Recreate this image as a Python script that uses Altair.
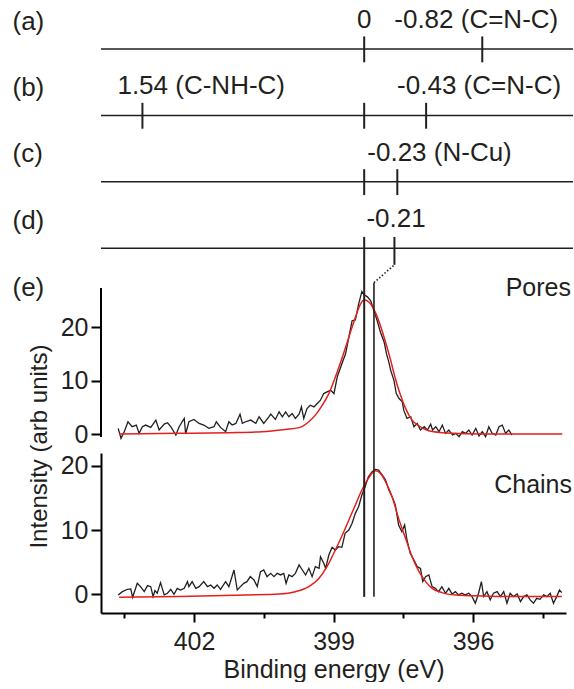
import altair as alt
import pandas as pd

# ---------------- data ----------------
pores_be = [403.63, 403.57, 403.50, 403.42, 403.33, 403.24, 403.18, 403.11, 403.04, 402.93,
            402.82, 402.75, 402.64, 402.57, 402.50, 402.39, 402.32, 402.21, 402.18, 402.11,
            402.00, 401.89, 401.79, 401.68, 401.57, 401.52, 401.43, 401.32, 401.25, 401.18,
            401.10, 401.01, 400.96, 400.89, 400.78, 400.67, 400.60, 400.50, 400.39, 400.35,
            400.25, 400.17, 400.10, 400.03, 399.96, 399.89, 399.82, 399.74, 399.69, 399.64,
            399.57, 399.50, 399.42, 399.35, 399.28, 399.21, 399.14, 399.06, 398.99, 398.92,
            398.82, 398.74, 398.67, 398.60, 398.53, 398.46, 398.39, 398.34, 398.27, 398.20,
            398.13, 398.06, 397.99, 397.91, 397.86, 397.81, 397.77, 397.70, 397.65, 397.59,
            397.52, 397.49, 397.42, 397.34, 397.27, 397.20, 397.13, 397.05, 396.98, 396.91,
            396.87, 396.80, 396.73, 396.66, 396.59, 396.52, 396.44, 396.37, 396.30, 396.23,
            396.16, 396.09, 396.02, 395.94, 395.87, 395.80, 395.73, 395.66, 395.59, 395.51,
            395.44, 395.37, 395.30, 395.23, 395.16]
pores_counts = [1.06, -0.81, 0.43, 2.30, 1.37, 1.68, 0.12, 1.37, 1.68, 1.24,
                2.61, 0.75, 1.86, 2.11, 1.37, -0.19, 1.37, 2.92, 0.00, 2.30,
                2.73, 1.99, 1.68, 1.06, 1.37, 2.30, 1.24, 0.43, 2.30, 1.68,
                1.99, 3.73, 1.99, 2.30, 2.61, 1.99, 3.23, 1.99, 3.23, 3.73,
                2.73, 4.16, 3.23, 4.16, 3.23, 3.85, 2.92, 3.73, 5.09, 2.92,
                4.78, 5.40, 5.09, 5.71, 6.34, 7.58, 7.89, 8.20, 7.58, 10.68,
                13.17, 15.03, 18.14, 21.24, 21.37, 24.35, 26.71, 26.09, 25.71, 24.97,
                23.11, 21.24, 19.07, 17.20, 15.03, 13.48, 11.93, 10.06, 7.58, 6.65,
                6.02, 4.47, 2.92, 3.23, 1.37, 1.99, 0.75, 1.37, 0.75, 1.86,
                0.75, 1.37, 0.43, 1.68, 0.12, 0.75, -0.19, 0.12, -0.50, 0.43,
                0.12, 0.75, -0.19, 1.06, -0.37, 0.43, -0.50, 1.37, 0.12, -0.19,
                1.37, 1.68, 0.12, 0.75, -0.19]
pores_fit_be = [403.61, 402.32, 401.25, 400.54, 400.03, 399.74, 399.53, 399.39, 399.24, 399.10,
                398.96, 398.81, 398.67, 398.53, 398.42, 398.34, 398.20, 398.10, 397.99, 397.88,
                397.77, 397.67, 397.56, 397.45, 397.31, 397.16, 396.95, 396.66, 396.16, 395.44,
                394.73, 394.08]
pores_fit = [0.0, 0.12, 0.25, 0.43, 0.87, 1.2, 2.3, 3.54, 5.4, 7.58,
             10.68, 14.41, 18.14, 21.86, 24.35, 25.1, 24.35, 22.8, 20.3, 17.2,
             13.8, 10.4, 7.3, 4.8, 2.6, 1.5, 0.6, 0.25, 0.06, 0.0,
             0.0, 0.0]

chains_be = [403.63, 403.54, 403.43, 403.36, 403.32, 403.22, 403.15, 403.07, 403.00, 402.93,
             402.88, 402.84, 402.79, 402.72, 402.64, 402.57, 402.50, 402.43, 402.36, 402.29,
             402.21, 402.14, 402.11, 402.04, 401.96, 401.89, 401.79, 401.71, 401.64, 401.57,
             401.50, 401.43, 401.32, 401.25, 401.14, 401.07, 401.00, 400.93, 400.86, 400.79,
             400.71, 400.64, 400.57, 400.50, 400.43, 400.35, 400.28, 400.21, 400.14, 400.07,
             400.02, 399.96, 399.89, 399.82, 399.74, 399.67, 399.60, 399.53, 399.46, 399.39,
             399.31, 399.28, 399.21, 399.17, 399.10, 399.03, 398.96, 398.89, 398.82, 398.75,
             398.67, 398.60, 398.53, 398.46, 398.39, 398.32, 398.25, 398.17, 398.10, 398.03,
             397.95, 397.88, 397.81, 397.74, 397.67, 397.60, 397.53, 397.47, 397.42, 397.35,
             397.27, 397.20, 397.13, 397.08, 397.02, 396.95, 396.88, 396.81, 396.74, 396.67,
             396.59, 396.52, 396.45, 396.38, 396.31, 396.24, 396.17, 396.09, 396.02, 395.95,
             395.88, 395.82, 395.77, 395.70, 395.63, 395.56, 395.48, 395.41, 395.34, 395.27,
             395.20, 395.13, 395.05, 394.98, 394.91, 394.84, 394.77, 394.70, 394.63, 394.56,
             394.48, 394.41, 394.34, 394.27, 394.20, 394.14, 394.09]
chains_counts = [-0.10, 0.41, 0.78, 0.83, -0.47, 1.71, 1.19, 0.41, 1.35, 1.19,
                 -0.36, 0.57, 0.16, 1.81, -0.10, 0.16, 0.78, 0.00, 0.93, 0.67,
                 0.93, 1.97, 1.19, 1.97, 0.93, 1.19, 1.97, 1.19, 1.45, 0.93,
                 1.45, 0.78, 1.97, 1.19, 3.78, 0.67, 1.19, 1.71, 1.97, 2.75,
                 2.23, 1.19, 3.52, 3.78, 2.75, 3.26, 2.75, 3.26, 3.01, 3.26,
                 1.71, 3.01, 2.75, 3.26, 4.56, 3.78, 3.01, 4.04, 2.75, 4.30,
                 4.04, 5.85, 4.82, 4.04, 6.11, 7.31, 6.89, 7.41, 7.31, 9.48,
                 10.0, 11.04, 12.59, 13.63, 15.44, 16.74, 18.29, 19.07, 19.43, 19.33,
                 18.55, 17.77, 16.22, 15.18, 13.89, 10.78, 9.74, 10.78, 8.45, 6.37,
                 5.34, 4.30, 4.04, 1.97, 2.75, 3.01, 1.19, 0.93, 0.41, 1.19,
                 0.16, 0.93, 0.05, 0.41, -0.10, 0.16, -0.10, 0.16, -0.36, -1.40,
                 0.16, 1.97, -0.36, 0.41, -0.88, 0.16, 0.41, -0.36, 0.41, -1.40,
                 0.16, -0.36, 0.05, -1.14, -0.36, -0.10, -0.88, -1.40, -0.62, -0.78,
                 -0.10, -0.36, 0.16, -1.40, -0.36, 0.67, 0.26]
chains_fit_be = [403.61, 402.32, 400.89, 400.17, 399.82, 399.53, 399.31, 399.14, 398.96, 398.81,
                 398.67, 398.53, 398.39, 398.25, 398.10, 397.99, 397.88, 397.74, 397.60, 397.45,
                 397.31, 397.16, 397.02, 396.88, 396.67, 396.38, 395.80, 395.09, 394.09]
chains_fit = [-0.47, -0.36, -0.10, 0.05, 0.41, 1.19, 2.49, 4.30, 6.89, 9.22,
              11.55, 13.89, 16.22, 18.03, 19.2, 18.81, 17.51, 15.18, 11.81, 8.70,
              5.85, 3.52, 1.97, 0.93, 0.26, -0.10, -0.26, -0.36, -0.36]

series_names = ["Pores", "Chains"]
pores_peak = 398.34
chains_peak = 398.13

rows = ["(a)", "(b)", "(c)", "(d)"]
extra_label = "(e)"
tick_row = ["(a)", "(a)", "(b)", "(b)", "(b)", "(c)", "(c)", "(d)", "(d)"]
tick_shift = [0, -0.82, 1.54, 0, -0.43, 0, -0.23, 0, -0.21]
label_row = ["(a)", "(a)", "(b)", "(b)", "(c)", "(d)"]
label_shift = [0, -0.82, 1.54, -0.43, -0.23, -0.21]
label_text = ["0", "-0.82 (C=N-C)", "1.54 (C-NH-C)", "-0.43 (C=N-C)", "-0.23 (N-Cu)", "-0.21"]

x_major = [396, 399, 402]
x_minor = [394.5, 397.5, 400.5, 403.5]

# ---------------- styling / layout ----------------
FONT = "Liberation Sans"
INK = "#231f20"
RED = "#e3201b"
FS = 25
FS_ANN = 26

label_align = ["center", "left", "left", "left", "left", "left"]
label_dx = [0, -88, -25, -29, -30, -28]

BE_MIN, BE_MAX = 394.0, 404.0
W_SPEC, W_MARK = 465, 472
H_MARK, H_UP, H_LO = 288, 165, 160
SHIFT_PX = 144.0
px_per_ev = W_SPEC / (BE_MAX - BE_MIN)
shift_hi = (BE_MAX - pores_peak) * px_per_ev / SHIFT_PX
shift_lo = shift_hi - W_MARK / SHIFT_PX
dot_end = (chains_peak - pores_peak) * px_per_ev / SHIFT_PX

ROW_LO, ROW_HI = -0.60, 3.739
row_y = {r: len(rows) - 1 - i for i, r in enumerate(rows)}
LABEL_UP = 0.42
E_POS = -0.585

UP_LO, UP_HI = -3.56, 27.37
LO_LO, LO_HI = -2.91, 21.98

xs_shift = alt.Scale(domain=[shift_lo, shift_hi], reverse=True, nice=False, zero=False)
ys_rows = alt.Scale(domain=[ROW_LO, ROW_HI], nice=False, zero=False)
xs_be = alt.Scale(domain=[BE_MIN, BE_MAX], reverse=True, nice=False, zero=False)

# ---------------- marker panel (a)-(d) ----------------
lab_vals = [row_y[r] + LABEL_UP for r in rows] + [E_POS]
lab_names = rows + [extra_label]
parts = []
for v, n in zip(lab_vals[:-1], lab_names[:-1]):
    parts.append(f"datum.value > {v - 0.5:.3f} ? '{n}'")
label_expr = " : ".join(parts) + f" : '{lab_names[-1]}'"

hlines = pd.DataFrame({"y": [row_y[r] for r in rows]})
base_h = alt.Chart(hlines).mark_rule(color=INK, strokeWidth=1.6).encode(
    y=alt.Y("y:Q", scale=ys_rows,
            axis=alt.Axis(values=lab_vals, labelExpr=label_expr, domain=False, ticks=False,
                          tickSize=0, labelPadding=89, labelAlign="left", labelBaseline="middle",
                          grid=False, title=None, labelFontSize=FS_ANN, labelFlush=False))
)

tick_recs = []
for r, s in zip(tick_row, tick_shift):
    yc = row_y[r]
    if r == rows[-1]:
        lo = ROW_LO if s == 0 else yc - 0.25
        tick_recs.append({"shift": s, "y": lo, "y2": yc + 0.17})
    else:
        tick_recs.append({"shift": s, "y": yc - 0.2, "y2": yc + 0.19})
ticks = alt.Chart(pd.DataFrame(tick_recs)).mark_rule(color=INK, strokeWidth=2).encode(
    x=alt.X("shift:Q", scale=xs_shift, axis=None),
    y=alt.Y("y:Q", scale=ys_rows), y2="y2:Q")

d_shift = tick_shift[-1]
dotted = alt.Chart(pd.DataFrame({"shift": [d_shift, dot_end], "y": [row_y[rows[-1]] - 0.25, -0.52]})).mark_line(
    color=INK, strokeWidth=1.6, strokeDash=[1.5, 2]).encode(
    x=alt.X("shift:Q", scale=xs_shift, axis=None), y=alt.Y("y:Q", scale=ys_rows))
stub = alt.Chart(pd.DataFrame({"shift": [dot_end], "y": [-0.52], "y2": [ROW_LO]})).mark_rule(
    color=INK, strokeWidth=1.6).encode(
    x=alt.X("shift:Q", scale=xs_shift, axis=None), y=alt.Y("y:Q", scale=ys_rows), y2="y2:Q")

texts = []
for t, r, s, al, dx in zip(label_text, label_row, label_shift, label_align, label_dx):
    df = pd.DataFrame({"shift": [s], "y": [row_y[r]], "t": [t]})
    texts.append(alt.Chart(df).mark_text(align=al, baseline="alphabetic", dx=dx, dy=-21,
                                         fontSize=FS_ANN, font=FONT, color=INK).encode(
        x=alt.X("shift:Q", scale=xs_shift, axis=None), y=alt.Y("y:Q", scale=ys_rows), text="t:N"))

markers = alt.layer(base_h, ticks, dotted, stub, *texts).properties(width=W_MARK, height=H_MARK)

# ---------------- spectra ----------------
tick_cond_y = {"condition": {"test": "datum.value % 10 === 0", "value": 10}, "value": 6}
tick_cond_x = {"condition": {"test": "datum.value % 3 === 0", "value": 9}, "value": 5}

pores_df = pd.DataFrame({"be": pores_be, "v": pores_counts})
pores_fit_df = pd.DataFrame({"be": pores_fit_be, "v": pores_fit})
chains_df = pd.DataFrame({"be": chains_be, "v": chains_counts})
chains_fit_df = pd.DataFrame({"be": chains_fit_be, "v": chains_fit})
peaks_df = pd.DataFrame({"be": [pores_peak, chains_peak], "w": [2.0, 1.6]})

ys_up = alt.Scale(domain=[UP_LO, UP_HI], nice=False, zero=False)
ys_lo = alt.Scale(domain=[LO_LO, LO_HI], nice=False, zero=False)

up_axis = alt.Axis(values=[0, 5, 10, 15, 20, 25], labelExpr="datum.value % 10 === 0 ? datum.label : ''",
                   tickSize=tick_cond_y, domain=False, grid=False, title="Intensity (arb units)",
                   titleY=158, titlePadding=9, labelPadding=3, labelFlush=False, titleFontSize=24)
up_black = alt.Chart(pores_df).mark_line(color=INK, strokeWidth=1.3).encode(
    x=alt.X("be:Q", scale=xs_be, axis=None),
    y=alt.Y("v:Q", scale=ys_up, axis=up_axis))
up_red = alt.Chart(pores_fit_df).mark_line(color=RED, strokeWidth=1.5, interpolate="monotone").encode(
    x=alt.X("be:Q", scale=xs_be, axis=None), y=alt.Y("v:Q", scale=ys_up))
up_rules = alt.Chart(peaks_df).mark_rule(color=INK).encode(
    x=alt.X("be:Q", scale=xs_be, axis=None), strokeWidth=alt.StrokeWidth("w:Q", scale=None))
up_axisline = alt.Chart(pd.DataFrame({"a": [0]})).mark_rule(color="black", strokeWidth=2).encode(
    x=alt.X(datum=BE_MAX, scale=xs_be, axis=None), y=alt.Y(datum=-0.56, scale=ys_up), y2=alt.Y2(datum=UP_HI))
up_name = alt.Chart(pd.DataFrame({"n": [series_names[0]]})).mark_text(
    align="right", baseline="alphabetic", dx=5, fontSize=FS, font=FONT, color=INK).encode(
    x=alt.X(datum=BE_MIN, scale=xs_be, axis=None), y=alt.Y(datum=25.8, scale=ys_up), text="n:N")
upper = alt.layer(up_black, up_red, up_rules, up_axisline, up_name).properties(width=W_SPEC, height=H_UP)

lo_xaxis = alt.Axis(values=x_minor + x_major, labelExpr="datum.value % 3 === 0 ? datum.label : ''",
                    tickSize=tick_cond_x, grid=False, title="Binding energy (eV)", labelPadding=7,
                    titlePadding=3, labelFlush=False, format="d")
lo_yaxis = alt.Axis(values=[0, 5, 10, 15, 20], labelExpr="datum.value % 10 === 0 ? datum.label : ''",
                    tickSize=tick_cond_y, grid=False, title=None, labelPadding=3, labelFlush=False)
lo_black = alt.Chart(chains_df).mark_line(color=INK, strokeWidth=1.3).encode(
    x=alt.X("be:Q", scale=xs_be, axis=lo_xaxis),
    y=alt.Y("v:Q", scale=ys_lo, axis=lo_yaxis))
lo_red = alt.Chart(chains_fit_df).mark_line(color=RED, strokeWidth=1.5, interpolate="monotone").encode(
    x=alt.X("be:Q", scale=xs_be), y=alt.Y("v:Q", scale=ys_lo))
lo_rules = alt.Chart(peaks_df).mark_rule(color=INK).encode(
    x=alt.X("be:Q", scale=xs_be), y=alt.Y(datum=-0.4, scale=ys_lo), y2=alt.Y2(datum=LO_HI),
    strokeWidth=alt.StrokeWidth("w:Q", scale=None))
lo_name = alt.Chart(pd.DataFrame({"n": [series_names[1]]})).mark_text(
    align="right", baseline="alphabetic", dx=6, fontSize=FS, font=FONT, color=INK).encode(
    x=alt.X(datum=BE_MIN, scale=xs_be), y=alt.Y(datum=15.8, scale=ys_lo), text="n:N")
lower = alt.layer(lo_black, lo_red, lo_rules, lo_name).properties(width=W_SPEC, height=H_LO)

chart = alt.vconcat(markers, upper, lower, spacing=0, bounds="flush").properties(
    padding={"left": 12, "top": 0, "right": 0, "bottom": 0}
).configure_view(stroke=None).configure_axis(
    labelFont=FONT, titleFont=FONT, labelFontSize=FS, titleFontSize=FS,
    labelColor=INK, titleColor=INK, titleFontWeight="normal",
    domainColor="black", tickColor="black", domainWidth=2, tickWidth=2
)

chart.save("out.html", embed_options={"renderer": "svg", "actions": False})
